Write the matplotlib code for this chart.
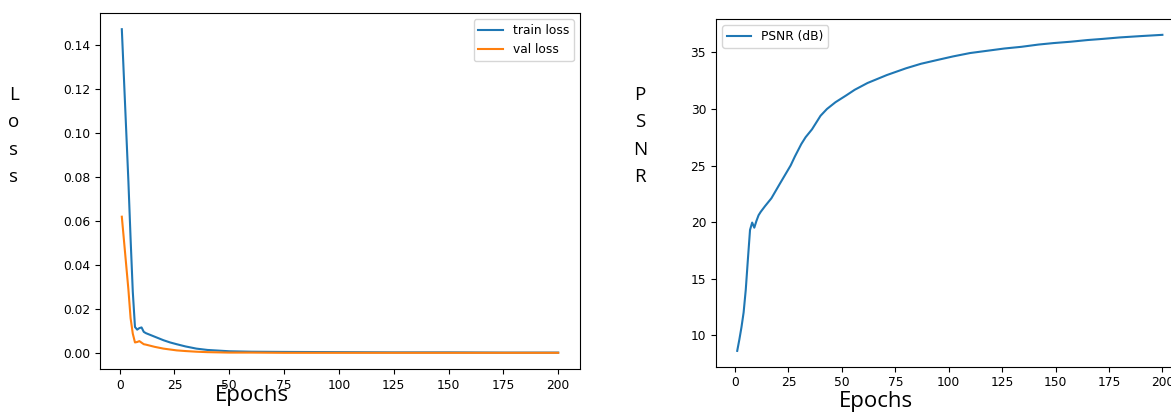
import numpy as np
import matplotlib.pyplot as plt

# training curves
loss_epochs = [1, 2, 3, 4, 5, 6, 7, 8, 9, 10, 11, 12, 14, 16, 18, 20, 23, 26,
               30, 35, 40, 45, 50, 60, 75, 100, 125, 150, 175, 200]
train_loss = [0.147, 0.124, 0.101, 0.078, 0.052, 0.028, 0.0120, 0.0108, 0.0115,
              0.0118, 0.0098, 0.0092, 0.0084, 0.0076, 0.0068, 0.0060, 0.0050,
              0.0042, 0.0032, 0.0022, 0.0016, 0.0013, 0.0010, 0.0008, 0.0007,
              0.0006, 0.0005, 0.0005, 0.0004, 0.0004]
val_loss = [0.062, 0.051, 0.040, 0.029, 0.016, 0.009, 0.0050, 0.0052, 0.0056,
            0.0049, 0.0042, 0.0040, 0.0035, 0.0030, 0.0026, 0.0022, 0.0018,
            0.0014, 0.0011, 0.0008, 0.0006, 0.0005, 0.0004, 0.0004, 0.0003,
            0.0003, 0.0003, 0.0003, 0.0003, 0.0003]

psnr_epochs = [1, 2, 3, 4, 5, 6, 7, 8, 9, 10, 11, 12, 14, 17, 21, 26, 28, 31, 33,
               36, 38, 40, 43, 47, 52, 56, 62, 71, 80, 87, 95, 102, 110, 118,
               126, 134, 142, 149, 157, 165, 172, 180, 190, 200]
psnr = [8.6, 9.6, 10.7, 12.0, 14.0, 16.7, 19.3, 19.95, 19.5, 20.1, 20.6, 20.9,
        21.4, 22.1, 23.4, 25.0, 25.8, 26.9, 27.5, 28.2, 28.8, 29.4, 30.0, 30.6,
        31.2, 31.7, 32.3, 33.0, 33.6, 34.0, 34.35, 34.65, 34.95, 35.15, 35.35,
        35.5, 35.7, 35.83, 35.95, 36.1, 36.2, 36.33, 36.45, 36.56]

label_font = "Open Sans"
plt.rcParams["xtick.labelsize"] = 8.8
plt.rcParams["ytick.labelsize"] = 8.8
plt.rcParams["legend.fontsize"] = 8.8

fig = plt.figure(figsize=(11.71, 4.12), dpi=100)

ax1 = fig.add_axes([0.0854, 0.1044, 0.4099, 0.864])
ax1.plot(loss_epochs, train_loss, label="train loss", lw=1.5)
ax1.plot(loss_epochs, val_loss, label="val loss", lw=1.5)
ax1.set_xticks(np.arange(0, 201, 25))
ax1.set_yticks(np.arange(0, 0.141, 0.02))
ax1.yaxis.set_major_formatter(plt.FormatStrFormatter("%.2f"))
ax1.legend(loc="upper right")

ax2 = fig.add_axes([0.6114, 0.110, 0.3994, 0.8438])
ax2.plot(psnr_epochs, psnr, label="PSNR (dB)", lw=1.5)
ax2.set_xticks(np.arange(0, 201, 25))
ax2.legend(loc="upper left")

# stacked-letter axis titles and epoch labels, as in the reference
fig.text(14 / 1171, 1 - 136 / 412, "L\no\ns\ns", ha="center", va="center",
         family=label_font, fontsize=13.5, linespacing=1.68)
fig.text(640 / 1171, 1 - 136 / 412, "P\nS\nN\nR", ha="center", va="center",
         family=label_font, fontsize=13.5, linespacing=1.68)
fig.text(252 / 1171, 1 - 396 / 412, "Epochs", ha="center", va="center",
         family=label_font, fontsize=16)
fig.text(876 / 1171, 1 - 401 / 412, "Epochs", ha="center", va="center",
         family=label_font, fontsize=16)

fig.savefig("out.png", dpi=100)
